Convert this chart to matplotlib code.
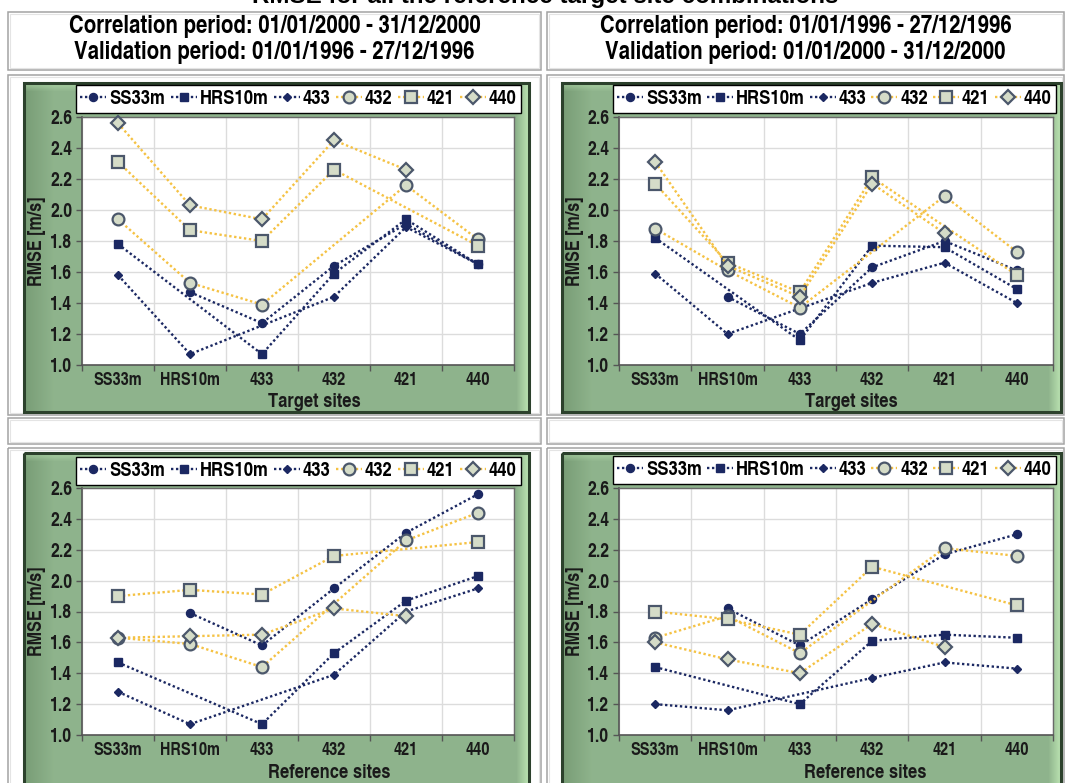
import numpy as np
import matplotlib
matplotlib.use("Agg")
import matplotlib.pyplot as plt
from matplotlib import font_manager
from matplotlib.font_manager import FontProperties
from matplotlib.ft2font import FT2Font
from matplotlib.lines import Line2D
from matplotlib.patches import Rectangle

W, H, DPI = 1067, 783, 100
nan = np.nan

# ---------------------------------------------------------------- data
sites = ["SS33m", "HRS10m", "433", "432", "421", "440"]
series_names = ["SS33m", "HRS10m", "433", "432", "421", "440"]

# Correlation 2000 / validation 1996, x = target sites
tl_ss33m = [nan, 1.47, 1.27, 1.64, 1.91, 1.65]
tl_hrs10m = [1.78, nan, 1.07, 1.59, 1.94, 1.65]
tl_433 = [1.58, 1.07, nan, 1.44, 1.89, 1.65]
tl_432 = [1.94, 1.53, 1.39, nan, 2.16, 1.81]
tl_421 = [2.31, 1.87, 1.80, 2.26, nan, 1.77]
tl_440 = [2.56, 2.03, 1.94, 2.45, 2.26, nan]

# Correlation 1996 / validation 2000, x = target sites
tr_ss33m = [nan, 1.44, 1.20, 1.63, 1.80, 1.61]
tr_hrs10m = [1.82, nan, 1.16, 1.77, 1.76, 1.49]
tr_433 = [1.59, 1.20, nan, 1.53, 1.66, 1.40]
tr_432 = [1.88, 1.61, 1.37, nan, 2.09, 1.73]
tr_421 = [2.17, 1.66, 1.47, 2.21, nan, 1.58]
tr_440 = [2.31, 1.64, 1.44, 2.17, 1.85, nan]

# Correlation 2000 / validation 1996, x = reference sites
bl_ss33m = [nan, 1.79, 1.58, 1.95, 2.31, 2.56]
bl_hrs10m = [1.47, nan, 1.07, 1.53, 1.87, 2.03]
bl_433 = [1.28, 1.07, nan, 1.39, 1.80, 1.95]
bl_432 = [1.63, 1.59, 1.44, nan, 2.26, 2.44]
bl_421 = [1.90, 1.94, 1.91, 2.16, nan, 2.25]
bl_440 = [1.63, 1.64, 1.65, 1.82, 1.77, nan]

# Correlation 1996 / validation 2000, x = reference sites
br_ss33m = [nan, 1.82, 1.58, 1.88, 2.17, 2.30]
br_hrs10m = [1.44, nan, 1.20, 1.61, 1.65, 1.63]
br_433 = [1.20, 1.16, nan, 1.37, 1.47, 1.43]
br_432 = [1.63, 1.77, 1.53, nan, 2.21, 2.16]
br_421 = [1.80, 1.75, 1.65, 2.09, nan, 1.84]
br_440 = [1.60, 1.49, 1.40, 1.72, 1.57, nan]

header_left = ["Correlation period: 01/01/2000 - 31/12/2000",
               "Validation period: 01/01/1996 - 27/12/1996"]
header_right = ["Correlation period: 01/01/1996 - 27/12/1996",
                "Validation period: 01/01/2000 - 31/12/2000"]
page_title = "RMSE for all the reference target site combinations"

y_ticks = [1.0, 1.2, 1.4, 1.6, 1.8, 2.0, 2.2, 2.4, 2.6]

# ---------------------------------------------------------------- fonts
REGULAR = "Liberation Sans"


def _ink(fname, s):
    f = FT2Font(fname)
    f.set_size(100, 72)
    f.set_text(s, 0.0)
    w, h = f.get_width_height()
    return w / 64.0, h / 64.0


def pick_bold_face():
    """Bold upright sans face whose proportions are closest to a narrow grotesque."""
    target = 3.81  # width of "SS33m" over cap height
    best = None
    for fe in font_manager.fontManager.ttflist:
        try:
            wt = int(fe.weight)
        except (TypeError, ValueError):
            wt = 700 if "bold" in str(fe.weight).lower() else 400
        if not (650 <= wt <= 750) or fe.style != "normal":
            continue
        low = fe.name.lower()
        if "cjk" in low or "mono" in low or "serif" in low or "math" in low:
            continue
        try:
            w, _ = _ink(fe.fname, "SS33m")
            _, ch = _ink(fe.fname, "H")
        except Exception:
            continue
        if ch <= 0:
            continue
        score = abs(w / ch - target)
        if best is None or score < best[0]:
            best = (score, fe.fname)
    return best[1] if best else None


FACE = pick_bold_face()


def nfont(size):
    if FACE:
        return FontProperties(fname=FACE, size=size)
    return FontProperties(family=REGULAR, weight="bold", size=size)


def wfont(size):
    return FontProperties(family=REGULAR, weight="bold", size=size)


fig = plt.figure(figsize=(W / DPI, H / DPI), dpi=DPI)
fig.patch.set_facecolor("white")
renderer = fig.canvas.get_renderer()


def size_for(s, px, prop_fn=nfont):
    t = fig.text(0, 0, s, fontproperties=prop_fn(20))
    w = t.get_window_extent(renderer).width
    t.remove()
    return 20.0 * px / w


S_TITLE = size_for(page_title, 585, wfont)
S_HEAD = size_for(header_left[0], 412)
S_XTICK = size_for("HRS10m", 60)
S_YTICK = size_for("2.6", 22)
S_XLAB = size_for("Reference sites", 122)
S_LEG = size_for("SS33m", 51) * 1.1
S_YLAB = size_for("RMSE [m/s]", 90)
EM_LEG = S_LEG * DPI / 72.0

# ---------------------------------------------------------------- styles
NAVY = "#1b2862"
GOLD = "#f5c244"
PALE = "#d5dcc8"
SLATE = "#4b576b"
DOT = (0, (1, 1.1))

styles = {
    "SS33m": dict(color=NAVY, marker="o", ms=5.8, mfc=NAVY, mec=NAVY, mew=1),
    "HRS10m": dict(color=NAVY, marker="s", ms=5.8, mfc=NAVY, mec=NAVY, mew=1),
    "433": dict(color=NAVY, marker="D", ms=4.4, mfc=NAVY, mec=NAVY, mew=1),
    "432": dict(color=GOLD, marker="o", ms=8.5, mfc=PALE, mec=SLATE, mew=1.6),
    "421": dict(color=GOLD, marker="s", ms=8.0, mfc=PALE, mec=SLATE, mew=1.6),
    "440": dict(color=GOLD, marker="D", ms=7.0, mfc=PALE, mec=SLATE, mew=1.6),
}

bg = fig.add_axes([0, 0, 1, 1], zorder=0)
bg.set_xlim(0, W)
bg.set_ylim(H, 0)
bg.axis("off")


def fx(x):
    return x / W


def fy(y):
    return 1 - y / H


def cell(x0, y0, x1, y1):
    bg.add_patch(Rectangle((x0, y0), x1 - x0, y1 - y0, fill=False,
                           ec="#a3a3a3", lw=1.1, zorder=1))
    bg.add_patch(Rectangle((x0 + 2, y0 + 2), x1 - x0 - 4, y1 - y0 - 4,
                           fill=False, ec="#e4e4e4", lw=0.8, zorder=1))


def frame(x0, y0, x1, y1):
    w, h = int(x1 - x0), int(y1 - y0)
    xp = np.arange(w)[None, :, None]
    yp = np.arange(h)[:, None, None]
    base = np.array([0.560, 0.705, 0.550])
    dark = np.array([0.40, 0.54, 0.39])
    light = np.array([0.76, 0.92, 0.72])
    left = np.clip(1 - xp / 30.0, 0, 1)
    right = np.clip(1 - (w - 1 - xp) / 12.0, 0, 1)
    top = np.clip(1 - yp / 8.0, 0, 1)
    img = base + (dark - base) * 0.55 * left + np.zeros((h, 1, 1))
    hl = np.maximum(right, top * 0.6)
    img = img + (light - img) * 0.85 * hl
    bg.imshow(np.clip(img, 0, 1), extent=(x0, x1, y1, y0), aspect="auto",
              zorder=2, interpolation="bilinear")
    bg.add_patch(Rectangle((x0, y0), x1 - x0, y1 - y0, fill=False,
                           ec="#2c412c", lw=2.2, zorder=3))


# table cells
cell(8, 12, 541, 70)
cell(547, 12, 1064, 70)
cell(8, 75, 541, 415)
cell(547, 75, 1064, 415)
cell(8, 418, 541, 444)
cell(547, 418, 1064, 444)
cell(8, 448, 541, 800)
cell(547, 448, 1064, 800)

# page title; only the lower edge of its line falls inside the page
fig.text(fx(545), fy(3), page_title, ha="center", va="baseline",
         fontproperties=wfont(S_TITLE), color="black")

for lines, cx in ((header_left, 274.5), (header_right, 805.5)):
    fig.text(fx(cx), fy(27), lines[0], ha="center", va="center",
             fontproperties=nfont(S_HEAD))
    fig.text(fx(cx), fy(53), lines[1], ha="center", va="center",
             fontproperties=nfont(S_HEAD))

panels = [
    dict(frame=(24, 83, 529, 412), plot=(82, 117, 514, 365),
         legend=(76, 85, 521, 113), xlabel="Target sites", xl=(314, 407),
         yl=37,
         data=[tl_ss33m, tl_hrs10m, tl_433, tl_432, tl_421, tl_440]),
    dict(frame=(562, 83, 1061, 412), plot=(619, 117, 1053, 365),
         legend=(613, 85, 1056, 113), xlabel="Target sites", xl=(851, 407),
         yl=575,
         data=[tr_ss33m, tr_hrs10m, tr_433, tr_432, tr_421, tr_440]),
    dict(frame=(24, 453, 529, 800), plot=(82, 488, 514, 735),
         legend=(76, 457, 521, 485), xlabel="Reference sites", xl=(329, 778),
         yl=37,
         data=[bl_ss33m, bl_hrs10m, bl_433, bl_432, bl_421, bl_440]),
    dict(frame=(562, 453, 1061, 800), plot=(619, 488, 1053, 735),
         legend=(613, 456, 1056, 484), xlabel="Reference sites", xl=(865, 778),
         yl=575,
         data=[br_ss33m, br_hrs10m, br_433, br_432, br_421, br_440]),
]

x_pos = np.arange(len(sites))

for p in panels:
    frame(*p["frame"])
    x0, y0, x1, y1 = p["plot"]
    ax = fig.add_axes([fx(x0), fy(y1), fx(x1 - x0), (y1 - y0) / H], zorder=5)
    ax.set_facecolor("white")
    ax.set_xlim(-0.5, len(sites) - 0.5)
    ax.set_ylim(1.0, 2.6)

    for name, vals in zip(series_names, p["data"]):
        v = np.asarray(vals, dtype=float)
        m = ~np.isnan(v)
        ax.plot(x_pos[m], v[m], ls=DOT, lw=1.7, clip_on=False, zorder=3,
                **styles[name])

    ax.set_yticks(y_ticks)
    ax.set_yticklabels([f"{t:.1f}" for t in y_ticks])
    ax.set_xticks(np.arange(-0.5, len(sites), 1.0))
    ax.set_xticklabels([])
    ax.set_xticks(x_pos, minor=True)
    ax.set_xticklabels(sites, minor=True)
    ax.tick_params(axis="x", which="major", length=4, width=1, color="#555555",
                   direction="out")
    ax.tick_params(axis="x", which="minor", length=0, pad=5)
    ax.tick_params(axis="y", length=4, width=1, color="#555555", pad=3,
                   direction="out")
    for lab in ax.get_xticklabels(minor=True):
        lab.set_fontproperties(nfont(S_XTICK))
        lab.set_color("#1a1a1a")
    for lab in ax.get_yticklabels():
        lab.set_fontproperties(nfont(S_YTICK))
        lab.set_color("#1a1a1a")
    ax.grid(axis="y", color="#dcdcdc", lw=1)
    ax.grid(axis="x", which="major", color="#dcdcdc", lw=1)
    ax.set_axisbelow(True)
    for side in ("left", "bottom"):
        ax.spines[side].set_color("#555555")
        ax.spines[side].set_linewidth(1.2)
    for side in ("top", "right"):
        ax.spines[side].set_color("#6a6a6a")
        ax.spines[side].set_linewidth(1.0)

    fig.text(fx(p["xl"][0]), fy(p["xl"][1]), p["xlabel"], ha="center",
             va="baseline", fontproperties=nfont(S_XLAB), color="#1a1a1a",
             zorder=6)
    fig.text(fx(p["yl"]), fy((y0 + y1) / 2), "RMSE [m/s]", ha="center",
             va="center", rotation=90, fontproperties=nfont(S_YLAB),
             color="#1a1a1a", zorder=6)

    handles = [Line2D([], [], ls=DOT, lw=1.7, **styles[n]) for n in series_names]
    lx0, ly0, lx1, ly1 = p["legend"]
    leg = ax.legend(handles, series_names, ncol=6, loc="center",
                    bbox_to_anchor=(fx(lx0), fy(ly1), fx(lx1 - lx0),
                                    (ly1 - ly0) / H),
                    bbox_transform=fig.transFigure, mode="expand",
                    frameon=True, fancybox=False, framealpha=1,
                    edgecolor="black", borderpad=0.22, borderaxespad=0,
                    handlelength=26 / EM_LEG, handletextpad=3 / EM_LEG,
                    columnspacing=3 / EM_LEG, prop=nfont(S_LEG))
    leg.get_frame().set_linewidth(1.0)
    leg.set_zorder(10)

fig.savefig("out.png", dpi=DPI)
